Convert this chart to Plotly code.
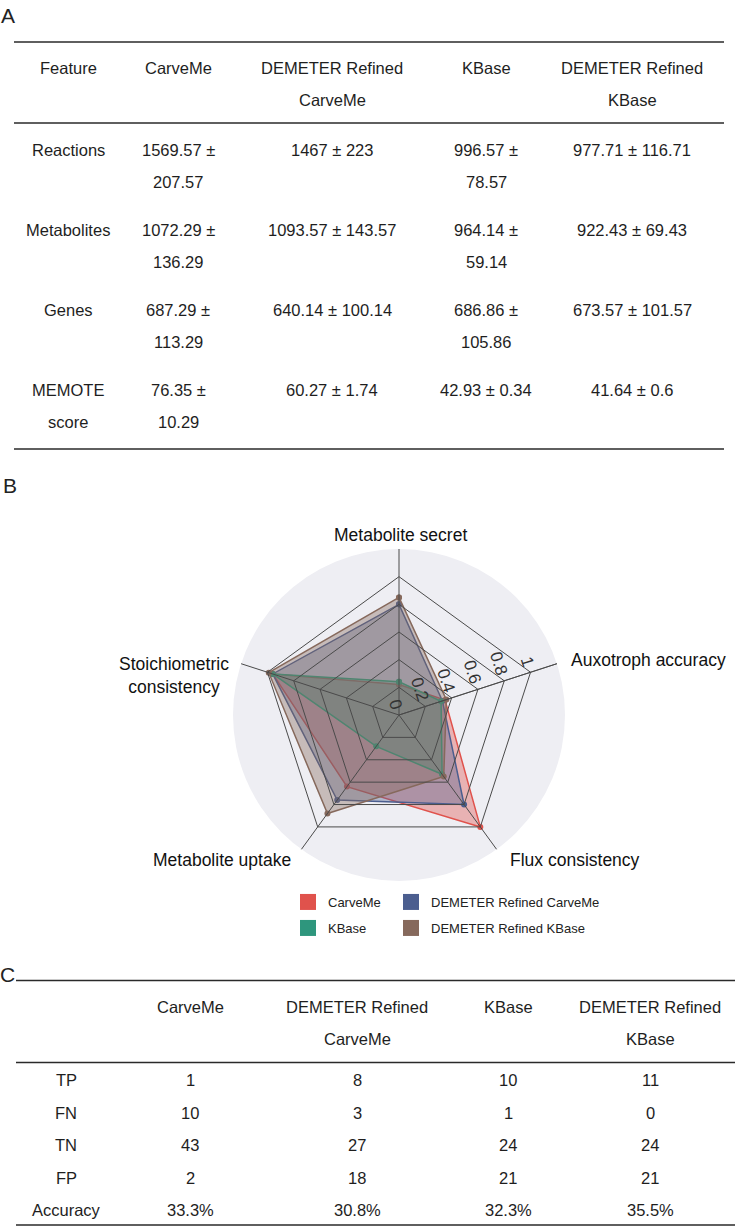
import plotly.graph_objects as go

W, H = 735, 1227
FONT = "Liberation Sans, Arial, sans-serif"


def px(x):
    return x / W


def py(y):
    return 1 - y / H


# ------------------------------------------------------------------ data
methods = ["CarveMe", "DEMETER Refined CarveMe", "KBase", "DEMETER Refined KBase"]

# Table A: model features (mean ± sd)
features = ["Reactions", "Metabolites", "Genes", "MEMOTE score"]
carveme_mean = [1569.57, 1072.29, 687.29, 76.35]
carveme_sd = [207.57, 136.29, 113.29, 10.29]
demeter_carveme_mean = [1467, 1093.57, 640.14, 60.27]
demeter_carveme_sd = [223, 143.57, 100.14, 1.74]
kbase_mean = [996.57, 964.14, 686.86, 42.93]
kbase_sd = [78.57, 59.14, 105.86, 0.34]
demeter_kbase_mean = [977.71, 922.43, 673.57, 41.64]
demeter_kbase_sd = [116.71, 69.43, 101.57, 0.6]

# Panel B: radar scores
radar_axes = ["Metabolite secret", "Auxotroph accuracy", "Flux consistency",
              "Metabolite uptake", "Stoichiometric consistency"]
radar_ticks = [0, 0.2, 0.4, 0.6, 0.8, 1]
carveme_scores = [0.22, 0.35, 1.00, 0.64, 0.96]
demeter_carveme_scores = [0.80, 0.33, 0.80, 0.76, 0.96]
kbase_scores = [0.24, 0.32, 0.53, 0.28, 0.96]
demeter_kbase_scores = [0.85, 0.36, 0.55, 0.88, 0.99]

# Table C: confusion counts and accuracy
confusion_labels = ["TP", "FN", "TN", "FP"]
carveme_counts = [1, 10, 43, 2]
demeter_carveme_counts = [8, 3, 27, 18]
kbase_counts = [10, 1, 24, 21]
demeter_kbase_counts = [11, 0, 24, 21]
accuracy_pct = [33.3, 30.8, 32.3, 35.5]

colors = ["#E0524C", "#4B5E8F", "#2E967D", "#86695C"]

# ------------------------------------------------------------------ helpers
def wrap(text, maxchars):
    words = str(text).split(" ")
    lines, cur = [], ""
    for w in words:
        cand = w if not cur else cur + " " + w
        if len(cand) <= maxchars or not cur:
            cur = cand
        else:
            lines.append(cur)
            cur = w
    lines.append(cur)
    return lines


def pm(m, s):
    return f"{m:g} ± {s:g}"


def rgba(hexc, a):
    h = hexc.lstrip("#")
    r, g, b = int(h[0:2], 16), int(h[2:4], 16), int(h[4:6], 16)
    return f"rgba({r},{g},{b},{a})"


annotations = []
shapes = []
TEXT_COLOR = "#1e1e1e"
RULE_COLOR = "#2a2a2a"
TABLE_SIZE = 16.5


def add_text(x, y, text, size=TABLE_SIZE, xanchor="center", color=TEXT_COLOR, align="center"):
    annotations.append(dict(x=px(x), y=py(y), xref="paper", yref="paper", text=text,
                            showarrow=False, xanchor=xanchor, yanchor="middle", align=align,
                            font=dict(family=FONT, size=size, color=color)))


def add_rule(x0, x1, y):
    shapes.append(dict(type="line", xref="paper", yref="paper", x0=px(x0), x1=px(x1),
                       y0=py(y), y1=py(y), line=dict(color=RULE_COLOR, width=1.6)))


def draw_table(header, rows, col_x, col_chars, header_y, row_y, line_gap, rules, rule_x):
    for cx, mc, h in zip(col_x, col_chars, header):
        for i, ln in enumerate(wrap(h, mc)):
            add_text(cx, header_y + i * line_gap, ln)
    for ry, row in zip(row_y, rows):
        for cx, mc, cell in zip(col_x, col_chars, row):
            for i, ln in enumerate(wrap(cell, mc)):
                add_text(cx, ry + i * line_gap, ln)
    for ry in rules:
        add_rule(rule_x[0], rule_x[1], ry)


# ------------------------------------------------------------------ table A
col_chars = [11, 12, 16, 12, 16]
rows_a = []
for i, f in enumerate(features):
    rows_a.append([f,
                   pm(carveme_mean[i], carveme_sd[i]),
                   pm(demeter_carveme_mean[i], demeter_carveme_sd[i]),
                   pm(kbase_mean[i], kbase_sd[i]),
                   pm(demeter_kbase_mean[i], demeter_kbase_sd[i])])
draw_table(["Feature"] + methods, rows_a,
           col_x=[68, 178, 332, 486, 632], col_chars=col_chars,
           header_y=68, row_y=[150, 230, 310, 390], line_gap=32,
           rules=[42, 123, 449], rule_x=(14, 724))

# ------------------------------------------------------------------ table C
rows_c = []
for i, lab in enumerate(confusion_labels):
    rows_c.append([lab, str(carveme_counts[i]), str(demeter_carveme_counts[i]),
                   str(kbase_counts[i]), str(demeter_kbase_counts[i])])
rows_c.append(["Accuracy"] + [f"{a:.1f}%" for a in accuracy_pct])
draw_table([""] + methods, rows_c,
           col_x=[66, 190, 357, 508, 650], col_chars=col_chars,
           header_y=1006.5, row_y=[1080, 1112.5, 1145, 1178, 1210], line_gap=32.5,
           rules=[980.5, 1062.5, 1225], rule_x=(16, 735))

# panel letters
add_text(8, 16, "A", size=21, color="#222")
add_text(10, 486, "B", size=21, color="#222")
add_text(7, 974, "C", size=21, color="#222")

# ------------------------------------------------------------------ radar (B)
CX, CY, R = 399, 715, 166
R_MAX = 1.2
polar_domain = dict(x=[px(CX - R), px(CX + R)], y=[py(CY + R), py(CY - R)])

# circular backdrop
shapes.append(dict(type="circle", xref="paper", yref="paper", layer="below",
                   x0=px(CX - R), x1=px(CX + R), y0=py(CY + R), y1=py(CY - R),
                   fillcolor="#EEEEF3", line=dict(width=0)))

fig = go.Figure()
series = [carveme_scores, demeter_carveme_scores, kbase_scores, demeter_kbase_scores]
for name, vals, c in zip(methods, series, colors):
    fig.add_trace(go.Scatterpolar(
        r=vals + vals[:1], theta=radar_axes + radar_axes[:1],
        mode="lines+markers", fill="toself", fillcolor=rgba(c, 0.38),
        line=dict(color=c, width=1.5), marker=dict(size=6, color=c),
        name=name, showlegend=False, hoverinfo="skip", subplot="polar"))

# legend entries (2 x 2 grid); they live on the grid-overlay subplot
legend_ids = ["legend", "legend2", "legend3", "legend4"]
legend_xy = [(288, 902), (391, 902), (288, 928), (391, 928)]
for name, c, lid in zip(methods, colors, legend_ids):
    fig.add_trace(go.Scatterpolar(
        r=[None], theta=[radar_axes[0]], mode="markers", name=name, legend=lid,
        marker=dict(symbol="square", size=16, color=c), showlegend=True,
        subplot="polar2", hoverinfo="skip"))

# category labels around the radar
cat_pos = [(400, 535, "center"), (569, 660, "left"), (508, 860, "left"),
           (293, 860, "right"), (231, 675, "right")]
cat_text = [radar_axes[0], radar_axes[1], radar_axes[2], radar_axes[3],
            "Stoichiometric<br>consistency"]
for (x, y, xa), t in zip(cat_pos, cat_text):
    add_text(x, y, t, size=17.5, xanchor=xa, color="#111")

layout_legends = {}
for lid, (x, y) in zip(legend_ids, legend_xy):
    layout_legends[lid] = dict(x=px(x), y=py(y), xanchor="left", yanchor="middle",
                               bgcolor="rgba(0,0,0,0)", itemsizing="trace",
                               font=dict(family=FONT, size=13, color="#222"))

GRID = "#4a4a4a"
hidden_radial = dict(range=[0, R_MAX], showgrid=False, showline=False,
                     showticklabels=False, ticks="", angle=18)
hidden_angular = dict(direction="clockwise", rotation=90, showline=False, showgrid=False,
                      showticklabels=False, ticks="", categoryorder="array",
                      categoryarray=radar_axes)

fig.update_layout(
    width=W, height=H, autosize=False,
    margin=dict(l=0, r=0, t=0, b=0),
    paper_bgcolor="white", plot_bgcolor="white",
    font=dict(family=FONT, color=TEXT_COLOR),
    polar=dict(domain=polar_domain, bgcolor="rgba(0,0,0,0)", gridshape="linear",
               radialaxis=hidden_radial, angularaxis=hidden_angular),
    # grid overlay drawn above the filled areas
    polar2=dict(
        domain=polar_domain, bgcolor="rgba(0,0,0,0)", gridshape="linear",
        radialaxis=dict(range=[0, R_MAX], tickvals=radar_ticks,
                        ticktext=[f"{t:g}" for t in radar_ticks],
                        angle=18, tickangle=90, side="counterclockwise",
                        showline=True, linecolor=GRID, linewidth=0.8,
                        gridcolor=GRID, gridwidth=0.8, ticks="",
                        tickfont=dict(family=FONT, size=17, color="#333")),
        angularaxis=dict(direction="clockwise", rotation=90, showline=False,
                         showticklabels=False, ticks="", gridcolor=GRID,
                         gridwidth=0.8, categoryorder="array",
                         categoryarray=radar_axes),
    ),
    annotations=annotations, shapes=shapes,
    **layout_legends,
)

fig.write_html("out.html")
